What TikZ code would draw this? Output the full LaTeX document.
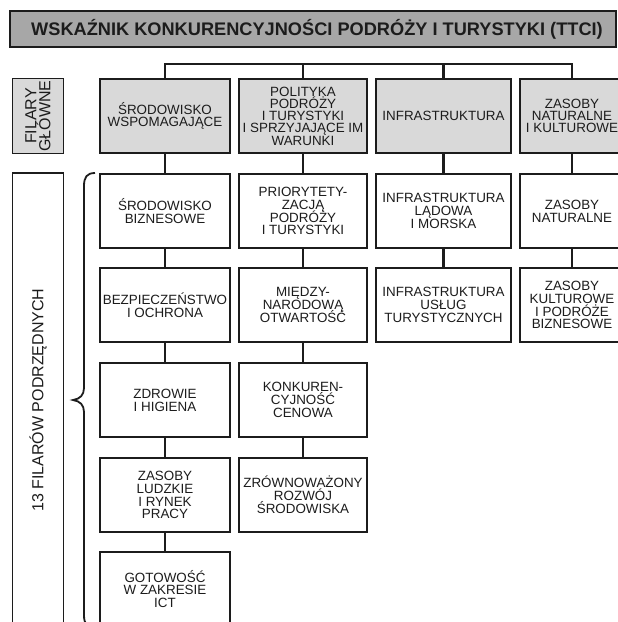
\documentclass[tikz,border=0pt]{standalone}
\usepackage{fontspec}
\setmainfont{Liberation Sans}
\definecolor{titlegray}{HTML}{A7A7A7}
\definecolor{maingray}{HTML}{D9D9D9}
\definecolor{ink}{HTML}{1C1C1C}
\setlength{\lineskiplimit}{-30pt}
\begin{document}
\begin{tikzpicture}[x=1pt,y=-1pt,
  every node/.style={inner sep=0pt, outer sep=0pt},
  titlebox/.style={draw=ink, line width=2.6pt, fill=titlegray, minimum width=606pt, minimum height=36pt, text=ink, font=\fontsize{18.2}{20}\selectfont\bfseries},
  mainbox/.style={draw=ink, line width=2.6pt, fill=maingray, minimum height=74pt, align=center, font=\fontsize{13.4}{12.2}\selectfont, text=ink},
  subbox/.style={draw=ink, line width=1.8pt, fill=white, minimum height=74pt, align=center, font=\fontsize{13.4}{12.8}\selectfont, text=ink},
  sidebox/.style={draw=ink, line width=1.2pt, rotate=90, minimum height=51pt, align=center, font=\fontsize{16}{14}\selectfont, text=ink},
  colA/.style={minimum width=130pt},
  colB/.style={minimum width=128pt},
  colC/.style={minimum width=135pt},
  colD/.style={minimum width=104pt},
  conn/.style={draw=ink, line width=2.4pt},
  bracepath/.style={draw=ink, line width=1.8pt}
]
\clip (0,0) rectangle (618,622);

% title
\node[titlebox] (title) at (313,29) {\hspace*{8pt}WSKAŹNIK KONKURENCYJNOŚCI PODRÓŻY I TURYSTYKI (TTCI)};

% side labels
\node[sidebox, fill=maingray, minimum width=75pt] (fg) at (38,116) {FILARY\\GŁÓWNE};
\node[sidebox, fill=white, minimum width=454pt] (fp) at (38,400) {13 FILARÓW PODRZĘDNYCH};

% main pillars
\node[mainbox, colA] (m1) at (165,116) {ŚRODOWISKO\\WSPOMAGAJĄCE};
\node[mainbox, colB] (m2) at (303,116) {POLITYKA\\PODRÓŻY\\I TURYSTYKI\\I SPRZYJAJĄCE IM\\WARUNKI};
\node[mainbox, colC] (m3) at (443.5,116) {INFRASTRUKTURA};
\node[mainbox, colD] (m4) at (572,116) {ZASOBY\\NATURALNE\\I KULTUROWE};

% column 1
\node[subbox, colA] (a1) at (165,211) {ŚRODOWISKO\\BIZNESOWE};
\node[subbox, colA] (a2) at (165,305) {BEZPIECZEŃSTWO\\I OCHRONA};
\node[subbox, colA] (a3) at (165,400) {ZDROWIE\\I HIGIENA};
\node[subbox, colA] (a4) at (165,495) {ZASOBY\\LUDZKIE\\I RYNEK\\PRACY};
\node[subbox, colA] (a5) at (165,589) {GOTOWOŚĆ\\W ZAKRESIE\\ICT};

% column 2
\node[subbox, colB] (b1) at (303,211) {PRIORYTETY-\\ZACJĄ\\PODRÓŻY\\I TURYSTYKI};
\node[subbox, colB] (b2) at (303,305) {MIĘDZY-\\NARODOWĄ\\OTWARTOŚĆ};
\node[subbox, colB] (b3) at (303,400) {KONKUREN-\\CYJNOŚĆ\\CENOWA};
\node[subbox, colB] (b4) at (303,495) {ZRÓWNOWAŻONY\\ROZWÓJ\\ŚRODOWISKA};

% column 3
\node[subbox, colC] (c1) at (443.5,211) {INFRASTRUKTURA\\LĄDOWA\\I MORSKA};
\node[subbox, colC] (c2) at (443.5,305) {INFRASTRUKTURA\\USŁUG\\TURYSTYCZNYCH};

% column 4
\node[subbox, colD] (d1) at (572,211) {ZASOBY\\NATURALNE};
\node[subbox, colD] (d2) at (572,305) {ZASOBY\\KULTUROWE\\I PODRÓŻE\\BIZNESOWE};

% top connector
\coordinate (top) at (0,64);
\draw[conn] (m1.north) |- (m4.north |- top) -- (m4.north);
\draw[conn] (m2.north) -- (m2.north |- top);
\draw[conn] (m3.north) -- (m3.north |- top);

% vertical connectors
\draw[conn] (m1.south) -- (a1.north);
\draw[conn] (a1.south) -- (a2.north);
\draw[conn] (a2.south) -- (a3.north);
\draw[conn] (a3.south) -- (a4.north);
\draw[conn] (a4.south) -- (a5.north);
\draw[conn] (m2.south) -- (b1.north);
\draw[conn] (b1.south) -- (b2.north);
\draw[conn] (b2.south) -- (b3.north);
\draw[conn] (b3.south) -- (b4.north);
\draw[conn] (m3.south) -- (c1.north);
\draw[conn] (c1.south) -- (c2.north);
\draw[conn] (m4.south) -- (d1.north);
\draw[conn] (d1.south) -- (d2.north);

% brace
\draw[bracepath] (95,173) .. controls (87,173) and (84,177) .. (84,186) -- (84,388)
  .. controls (84,395) and (80,399) .. (73,400)
  .. controls (80,401) and (84,405) .. (84,412) -- (84,615)
  .. controls (84,624) and (87,628) .. (95,628);
\end{tikzpicture}
\end{document}
